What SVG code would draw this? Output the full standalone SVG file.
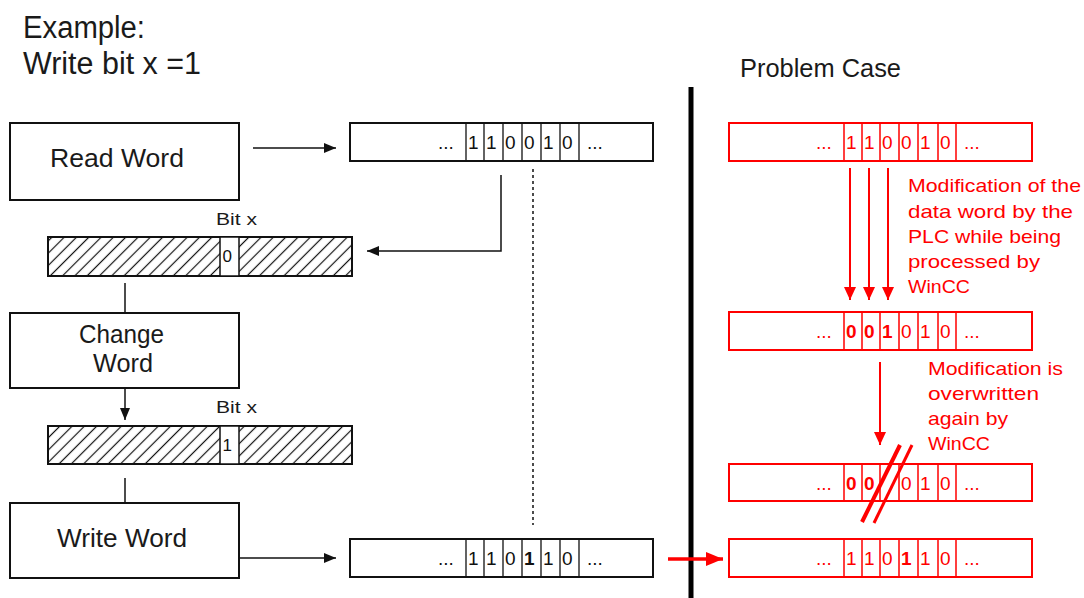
<svg xmlns="http://www.w3.org/2000/svg" width="1084" height="598" viewBox="0 0 1084 598">
<style>
text{font-family:"Liberation Sans",Arial,sans-serif;}
.box{fill:#fff;stroke:#111;stroke-width:2;}
.rbox{fill:#fff;stroke:#ff0000;stroke-width:2;}
.div{stroke:#111;stroke-width:1.3;}
.rdiv{stroke:#ff0000;stroke-width:1.5;}
.lbl{font-size:26px;fill:#1a1a1a;}
.dig{font-size:19px;fill:#111;}
.rdig{font-size:19px;fill:#ff0000;}
.b{font-weight:bold;}
.note{font-size:19px;fill:#ff0000;}
.con{stroke:#111;stroke-width:1.5;fill:none;}
.rcon{stroke:#ff0000;stroke-width:2;fill:none;}
</style>
<defs>
<pattern id="hatch" patternUnits="userSpaceOnUse" width="8.7" height="8.7" patternTransform="rotate(45)">
<line x1="4.35" y1="-1" x2="4.35" y2="10" stroke="#111" stroke-width="1.2"/>
</pattern>
<marker id="ah" markerUnits="userSpaceOnUse" markerWidth="12" markerHeight="10" refX="12" refY="5" orient="auto">
<path d="M0,0 L12,5 L0,10 z" fill="#111"/>
</marker>
<marker id="rah" markerUnits="userSpaceOnUse" markerWidth="13" markerHeight="12" refX="13" refY="6" orient="auto">
<path d="M0,0 L13,6 L0,12 z" fill="#ff0000"/>
</marker>
<marker id="rah2" markerUnits="userSpaceOnUse" markerWidth="17" markerHeight="14" refX="17" refY="7" orient="auto">
<path d="M0,0 L17,7 L0,14 z" fill="#ff0000"/>
</marker>
</defs>
<rect width="1084" height="598" fill="#fff"/>

<g id="title">
<text class="lbl" x="23" y="38" style="font-size:31px" textLength="122" lengthAdjust="spacingAndGlyphs">Example:</text>
<text class="lbl" x="23" y="74" style="font-size:31px" textLength="178" lengthAdjust="spacingAndGlyphs">Write bit x =1</text>
</g>

<g id="problem-case-label">
<text class="lbl" x="740" y="77" style="font-size:25px" textLength="161" lengthAdjust="spacingAndGlyphs">Problem Case</text>
</g>

<g id="read-word">
<rect class="box" x="10" y="123" width="229" height="77"/>
<text class="lbl" x="50" y="167" textLength="134" lengthAdjust="spacingAndGlyphs">Read Word</text>
</g>

<g id="change-word">
<rect class="box" x="10" y="313" width="229" height="75"/>
<text class="lbl" x="79" y="343" textLength="85" lengthAdjust="spacingAndGlyphs">Change</text>
<text class="lbl" x="93" y="372" textLength="60" lengthAdjust="spacingAndGlyphs">Word</text>
</g>

<g id="write-word">
<rect class="box" x="10" y="503" width="229" height="75"/>
<text class="lbl" x="57" y="547" textLength="130" lengthAdjust="spacingAndGlyphs">Write Word</text>
</g>

<g id="hatched-0">
<text class="lbl" x="216" y="225" style="font-size:17px" textLength="41" lengthAdjust="spacingAndGlyphs">Bit x</text>
<rect class="box" x="48" y="237" width="304" height="39" style="fill:url(#hatch)"/>
<rect x="220" y="237" width="19" height="39" fill="#fff" stroke="#111" stroke-width="1.5"/>
<text class="dig" x="222.5" y="262" style="font-size:17px">0</text>
</g>

<g id="hatched-1">
<text class="lbl" x="216" y="413" style="font-size:17px" textLength="41" lengthAdjust="spacingAndGlyphs">Bit x</text>
<rect class="box" x="48" y="426" width="304" height="38" style="fill:url(#hatch)"/>
<rect x="220" y="426" width="19" height="38" fill="#fff" stroke="#111" stroke-width="1.5"/>
<text class="dig" x="222.5" y="451" style="font-size:17px">1</text>
</g>

<g id="word-read">
<rect class="box" x="350" y="123" width="303" height="38"/>
<path class="div" d="M466,123V161M484,123V161M503,123V161M522,123V161M541,123V161M560,123V161M579,123V161"/>
<text class="dig" x="438" y="149">...</text>
<text class="dig" x="468" y="149">1</text>
<text class="dig" x="486" y="149">1</text>
<text class="dig" x="505" y="149">0</text>
<text class="dig" x="524" y="149">0</text>
<text class="dig" x="543" y="149">1</text>
<text class="dig" x="562" y="149">0</text>
<text class="dig" x="587" y="149">...</text>
</g>

<g id="word-written">
<rect class="box" x="350" y="539" width="303" height="38"/>
<path class="div" d="M466,539V577M484,539V577M503,539V577M522,539V577M541,539V577M560,539V577M579,539V577"/>
<text class="dig" x="438" y="565">...</text>
<text class="dig" x="468" y="565">1</text>
<text class="dig" x="486" y="565">1</text>
<text class="dig" x="505" y="565">0</text>
<text class="dig b" x="524" y="565">1</text>
<text class="dig" x="543" y="565">1</text>
<text class="dig" x="562" y="565">0</text>
<text class="dig" x="587" y="565">...</text>
</g>

<g id="plc-word-1">
<rect class="rbox" x="729" y="123" width="303" height="38"/>
<path class="rdiv" d="M844,123V161M862,123V161M880,123V161M899,123V161M918,123V161M938,123V161M956,123V161"/>
<text class="rdig" x="816" y="149">...</text>
<text class="rdig" x="846" y="149">1</text>
<text class="rdig" x="864" y="149">1</text>
<text class="rdig" x="882" y="149">0</text>
<text class="rdig" x="901" y="149">0</text>
<text class="rdig" x="920" y="149">1</text>
<text class="rdig" x="940" y="149">0</text>
<text class="rdig" x="964" y="149">...</text>
</g>

<g id="plc-word-2">
<rect class="rbox" x="729" y="312" width="303" height="38"/>
<path class="rdiv" d="M844,312V350M862,312V350M880,312V350M899,312V350M918,312V350M938,312V350M956,312V350"/>
<text class="rdig" x="816" y="337.5">...</text>
<text class="rdig b" x="846" y="337.5">0</text>
<text class="rdig b" x="864" y="337.5">0</text>
<text class="rdig b" x="882" y="337.5">1</text>
<text class="rdig" x="901" y="337.5">0</text>
<text class="rdig" x="920" y="337.5">1</text>
<text class="rdig" x="940" y="337.5">0</text>
<text class="rdig" x="964" y="337.5">...</text>
</g>

<g id="plc-word-3">
<rect class="rbox" x="729" y="464" width="303" height="37"/>
<path class="rdiv" d="M844,464V501M862,464V501M880,464V501M899,464V501M918,464V501M938,464V501M956,464V501"/>
<text class="rdig" x="816" y="489.5">...</text>
<text class="rdig b" x="846" y="489.5">0</text>
<text class="rdig b" x="864" y="489.5">0</text>
<text class="rdig" x="901" y="489.5">0</text>
<text class="rdig" x="920" y="489.5">1</text>
<text class="rdig" x="940" y="489.5">0</text>
<text class="rdig" x="964" y="489.5">...</text>
</g>

<g id="plc-word-4">
<rect class="rbox" x="729" y="539" width="303" height="38"/>
<path class="rdiv" d="M844,539V577M862,539V577M880,539V577M899,539V577M918,539V577M938,539V577M956,539V577"/>
<text class="rdig" x="816" y="565">...</text>
<text class="rdig" x="846" y="565">1</text>
<text class="rdig" x="864" y="565">1</text>
<text class="rdig" x="882" y="565">0</text>
<text class="rdig b" x="901" y="565">1</text>
<text class="rdig" x="920" y="565">1</text>
<text class="rdig" x="940" y="565">0</text>
<text class="rdig" x="964" y="565">...</text>
</g>

<g id="note-plc">
<text class="note" x="908" y="192" textLength="173" lengthAdjust="spacingAndGlyphs">Modification of the</text>
<text class="note" x="908" y="218" textLength="165" lengthAdjust="spacingAndGlyphs">data word by the</text>
<text class="note" x="908" y="243" textLength="153" lengthAdjust="spacingAndGlyphs">PLC while being</text>
<text class="note" x="908" y="268" textLength="132" lengthAdjust="spacingAndGlyphs">processed by</text>
<text class="note" x="908" y="293" textLength="62" lengthAdjust="spacingAndGlyphs">WinCC</text>
</g>

<g id="note-overwrite">
<text class="note" x="928" y="375" textLength="135" lengthAdjust="spacingAndGlyphs">Modification is</text>
<text class="note" x="928" y="400" textLength="111" lengthAdjust="spacingAndGlyphs">overwritten</text>
<text class="note" x="928" y="425" textLength="80" lengthAdjust="spacingAndGlyphs">again by</text>
<text class="note" x="928" y="450" textLength="62" lengthAdjust="spacingAndGlyphs">WinCC</text>
</g>

<g id="connectors">
<line class="con" x1="253" y1="148" x2="336" y2="148" marker-end="url(#ah)"/>
<polyline class="con" points="501,175 501,251 367,251" marker-end="url(#ah)"/>
<line class="con" x1="125" y1="283" x2="125" y2="313"/>
<line class="con" x1="125" y1="388" x2="125" y2="420" marker-end="url(#ah)"/>
<line class="con" x1="125" y1="478" x2="125" y2="503"/>
<line class="con" x1="239" y1="558" x2="336" y2="558" marker-end="url(#ah)"/>
<line class="con" x1="533" y1="169" x2="533" y2="525" stroke-dasharray="3,3"/>
<line x1="691" y1="87" x2="691" y2="598" stroke="#000" stroke-width="5"/>
<line class="rcon" x1="850" y1="168" x2="850" y2="300" marker-end="url(#rah)"/>
<line class="rcon" x1="869" y1="168" x2="869" y2="300" marker-end="url(#rah)"/>
<line class="rcon" x1="888" y1="168" x2="888" y2="300" marker-end="url(#rah)"/>
<line class="rcon" x1="880" y1="362" x2="880" y2="445" marker-end="url(#rah)"/>
<line class="rcon" x1="668" y1="559" x2="723" y2="559" style="stroke-width:3.5" marker-end="url(#rah2)"/>
<line x1="862" y1="522" x2="900" y2="445" stroke="#ff0000" stroke-width="4"/>
<line x1="874" y1="523" x2="912" y2="445" stroke="#ff0000" stroke-width="3"/>
</g>
</svg>
